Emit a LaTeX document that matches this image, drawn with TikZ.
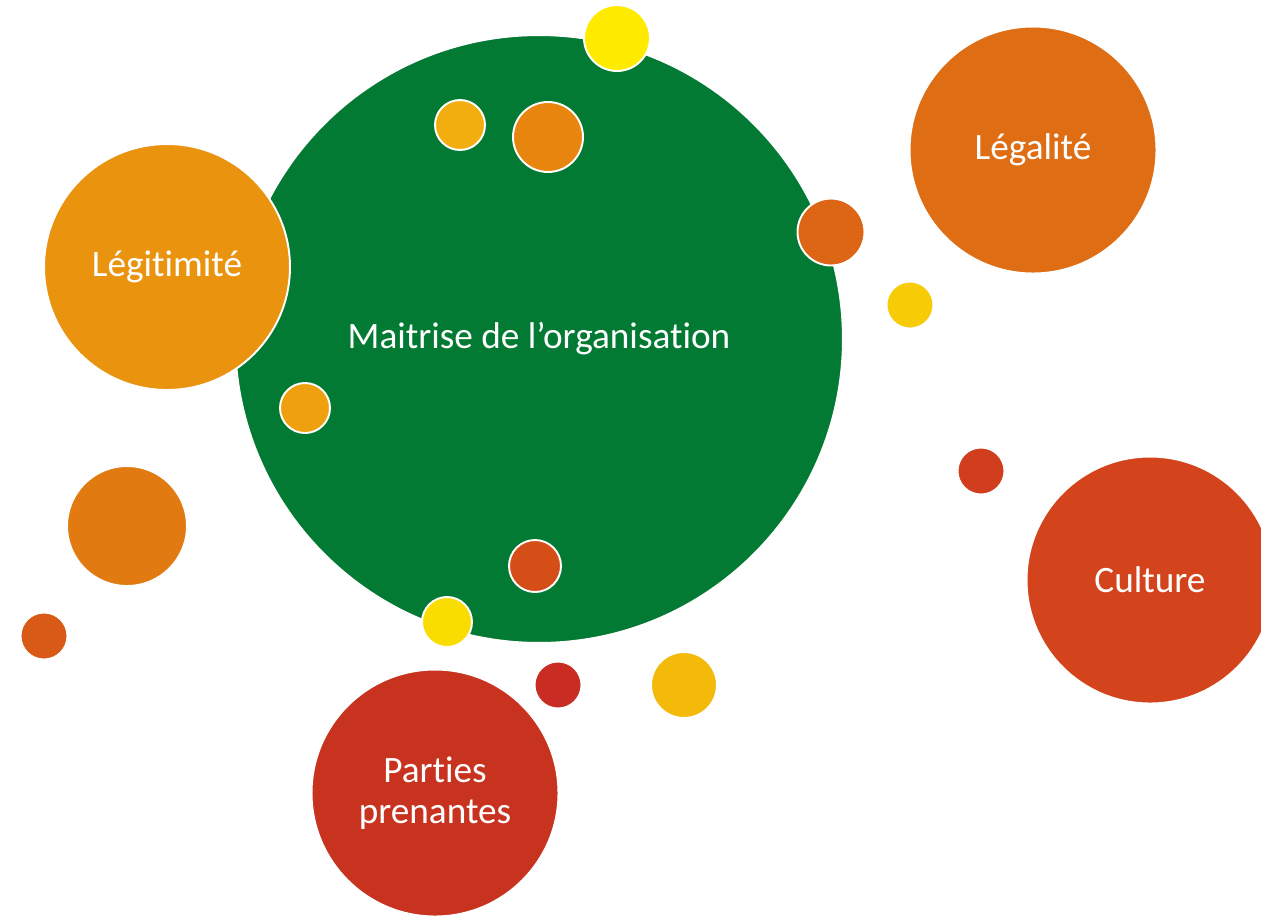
\documentclass[tikz,border=0pt]{standalone}
\usepackage{fontspec}
\setmainfont{Carlito}[Ligatures=NoCommon]
\usetikzlibrary{positioning}
\definecolor{vert}{RGB}{3,122,51}
\definecolor{jaune}{RGB}{255,235,0}
\definecolor{jauneb}{RGB}{250,221,0}
\definecolor{jaunec}{RGB}{247,203,6}
\definecolor{ambre}{RGB}{244,186,10}
\definecolor{orclair}{RGB}{242,174,14}
\definecolor{orpale}{RGB}{238,160,14}
\definecolor{orlegit}{RGB}{233,147,15}
\definecolor{orange}{RGB}{232,133,15}
\definecolor{oranged}{RGB}{226,122,18}
\definecolor{orlegal}{RGB}{223,109,20}
\definecolor{orroux}{RGB}{220,101,22}
\definecolor{roux}{RGB}{217,90,22}
\definecolor{rouxb}{RGB}{213,78,24}
\definecolor{culture}{RGB}{212,68,28}
\definecolor{brique}{RGB}{209,62,29}
\definecolor{parties}{RGB}{200,51,32}
\definecolor{rouge}{RGB}{200,44,34}

\begin{document}
\begin{tikzpicture}[x=0.02cm,y=-0.02cm,
  bulle/.style={circle,draw=white,line width=1.1pt,inner sep=0pt,
    text=white,align=center,font=\fontsize{21.2}{23}\selectfont}]
 \clip (0,0) rectangle (1261,917);
 \node[bulle,fill=vert,minimum size=12.16cm] (maitrise) at (539,339) {\raisebox{-2pt}{Maitrise de l’organisation}};
 % petites bulles
 \node[bulle,fill=jaune,minimum size=1.32cm] (b1) at (617,38) {};
 \node[bulle,fill=orclair,minimum size=1cm] (b2) at (460,125) {};
 \node[bulle,fill=orange,minimum size=1.4cm] (b3) at (548,137) {};
 \node[bulle,fill=orroux,minimum size=1.34cm] (b4) at (831,232) {};
 \node[bulle,fill=jaunec,minimum size=0.94cm] (b5) at (910,305) {};
 \node[bulle,fill=orpale,minimum size=1cm] (b6) at (305,408) {};
 \node[bulle,fill=brique,minimum size=0.94cm] (b7) at (981,471) {};
 \node[bulle,fill=oranged,minimum size=2.4cm] (b8) at (127,526) {};
 \node[bulle,fill=roux,minimum size=0.94cm] (b9) at (44,636) {};
 \node[bulle,fill=rouxb,minimum size=1.04cm] (b10) at (535,566) {};
 \node[bulle,fill=jauneb,minimum size=1cm] (b11) at (447,622) {};
 \node[bulle,fill=rouge,minimum size=0.94cm] (b12) at (558,685) {};
 \node[bulle,fill=ambre,minimum size=1.32cm] (b13) at (684,685) {};
 % grandes bulles
 \node[bulle,fill=orlegit,minimum size=4.92cm] (legitimite) at (167,267) {\raisebox{-2pt}{Légitimité}};
 \node[bulle,fill=orlegal,minimum size=4.94cm] (legalite) at (1033,150) {\raisebox{-2pt}{Légalité}};
 \node[bulle,fill=culture,minimum size=4.94cm] (culture) at (1150,580) {Culture};
 \node[bulle,fill=parties,minimum size=4.94cm] (parties) at (435,793) {Parties\\prenantes};
\end{tikzpicture}
\end{document}
